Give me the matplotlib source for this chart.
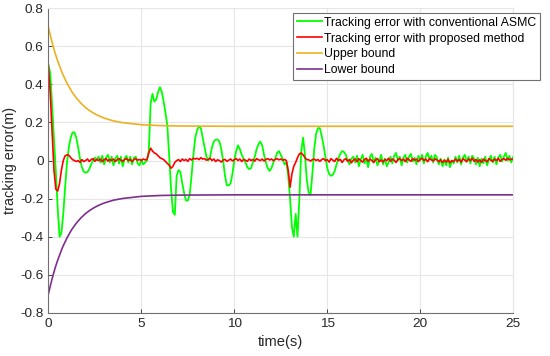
import matplotlib
matplotlib.use("Agg")
import matplotlib.pyplot as plt
import numpy as np

plt.rcParams['font.family'] = ['Liberation Sans', 'DejaVu Sans']

# sampled every 0.1 s, one row per second
time = np.linspace(0, 25, 251)

err_asmc = [
    0.50, 0.46, 0.29, 0.12, -0.06, -0.25, -0.40, -0.38, -0.28, -0.14,
    -0.01, 0.07, 0.12, 0.148, 0.148, 0.12, 0.07, 0.01, -0.035, -0.058,
    -0.064, -0.06, -0.045, -0.02, 0.0, 0.015, 0.005, 0.02, -0.01, 0.025,
    -0.02, 0.015, 0.03, -0.01, 0.02, -0.025, 0.01, 0.025, -0.015, 0.02,
    -0.03, 0.01, 0.025, -0.01, 0.02, -0.02, 0.015, 0.02, -0.015, -0.025,
    0.005, -0.02, -0.01, 0.0, 0.05, 0.30, 0.35, 0.31, 0.32, 0.36,
    0.385, 0.36, 0.31, 0.25, 0.18, 0.02, -0.15, -0.27, -0.285, -0.08,
    -0.05, -0.06, -0.12, -0.17, -0.21, -0.21, -0.18, -0.08, 0.03, 0.12,
    0.16, 0.18, 0.17, 0.12, 0.07, 0.02, 0.0, 0.02, 0.07, 0.10,
    0.11, 0.11, 0.10, 0.06, 0.0, -0.08, -0.13, -0.13, -0.12, -0.07,
    0.0, 0.05, 0.08, 0.06, 0.03, 0.01, -0.01, -0.035, -0.045, -0.04,
    -0.01, 0.02, 0.06, 0.085, 0.10, 0.08, 0.03, -0.01, -0.04, -0.055,
    -0.04, -0.01, 0.01, 0.04, 0.05, 0.03, 0.01, -0.02, -0.01, -0.08,
    -0.20, -0.35, -0.40, -0.28, -0.40, -0.20, 0.05, 0.12, 0.03, -0.10,
    -0.17, -0.18, -0.07, 0.06, 0.14, 0.17, 0.17, 0.13, 0.08, 0.02,
    -0.04, -0.07, -0.08, -0.075, -0.055, -0.02, 0.01, 0.035, 0.05, 0.045,
    0.03, 0.0, -0.02, 0.01, 0.02, -0.01, 0.025, -0.03, 0.005, 0.03,
    -0.015, 0.01, -0.035, 0.02, 0.035, -0.01, 0.015, -0.025, 0.0, 0.03,
    -0.02, 0.01, -0.03, -0.01, 0.02, -0.015, 0.025, 0.04, 0.0, 0.02,
    -0.025, 0.015, 0.03, -0.01, 0.02, 0.035, -0.005, 0.015, -0.02, 0.025,
    0.0, 0.03, -0.015, 0.02, 0.04, 0.005, 0.025, -0.01, 0.03, 0.015,
    -0.02, 0.01, -0.03, 0.005, -0.025, 0.015, -0.035, 0.0, -0.015, 0.02,
    -0.01, 0.025, -0.02, 0.015, 0.03, -0.005, 0.02, -0.015, 0.025, 0.01,
    -0.02, 0.015, -0.03, 0.01, -0.015, 0.02, -0.025, 0.005, 0.025, -0.01,
    0.02, -0.02, 0.015, 0.03, -0.005, 0.02, 0.04, 0.0, 0.025, -0.01,
    0.02,
]

err_proposed = [
    0.50, 0.35, 0.15, -0.05, -0.15, -0.16, -0.12, -0.05, 0.0, 0.025,
    0.03, 0.028, 0.015, 0.005, 0.0, -0.005, 0.0, -0.01, 0.005, -0.005,
    0.0, 0.008, -0.005, 0.005, 0.01, -0.004, 0.006, 0.0, 0.008, -0.006,
    0.005, 0.01, -0.003, 0.006, 0.0, 0.008, -0.005, 0.004, 0.01, 0.002,
    -0.004, 0.006, 0.01, 0.0, 0.007, -0.005, 0.005, 0.01, 0.002, 0.006,
    0.0, 0.008, 0.004, 0.005, 0.04, 0.065, 0.05, 0.04, 0.035, 0.025,
    0.015, 0.01, 0.005, -0.005, -0.015, -0.025, -0.04, -0.03, -0.01, 0.0,
    0.005, -0.005, 0.008, 0.0, 0.006, -0.004, 0.01, 0.003, 0.012, 0.008,
    0.012, 0.005, 0.015, 0.008, 0.01, 0.002, 0.006, 0.012, 0.0, 0.008,
    -0.005, 0.004, 0.0, -0.008, 0.003, 0.006, -0.004, 0.002, 0.008, -0.002,
    0.005, 0.01, 0.0, 0.008, -0.005, 0.006, 0.002, -0.004, 0.008, 0.0,
    0.006, -0.003, 0.01, 0.004, 0.0, 0.008, -0.002, 0.006, 0.01, 0.003,
    0.008, 0.0, 0.006, 0.01, 0.004, 0.008, 0.002, 0.006, 0.0, -0.05,
    -0.14, -0.07, -0.03, -0.01, 0.015, 0.035, 0.04, 0.03, 0.015, 0.005,
    0.004, -0.003, 0.005, 0.008, 0.0, 0.006, -0.004, 0.005, 0.01, 0.0,
    0.005, -0.008, 0.01, 0.002, -0.005, 0.012, 0.0, 0.006, -0.01, 0.004,
    0.01, -0.004, 0.006, -0.012, 0.002, 0.008, -0.006, 0.01, 0.0, -0.008,
    0.006, 0.012, -0.004, 0.008, 0.0, -0.01, 0.004, 0.01, -0.006, 0.003,
    -0.008, 0.006, 0.0, 0.012, -0.004, 0.008, 0.002, -0.01, 0.006, 0.01,
    0.0, 0.008, -0.006, 0.012, 0.004, -0.004, 0.01, 0.002, 0.008, -0.005,
    0.006, 0.012, 0.0, 0.008, -0.006, 0.01, 0.004, -0.002, 0.009, 0.003,
    -0.006, 0.004, -0.01, 0.002, -0.008, 0.006, -0.012, 0.0, -0.005, 0.008,
    -0.004, 0.006, -0.008, 0.01, 0.002, -0.006, 0.008, 0.0, 0.012, -0.004,
    0.006, -0.008, 0.004, -0.01, 0.008, 0.0, -0.006, 0.01, 0.002, -0.004,
    0.008, 0.0, 0.012, -0.004, 0.006, 0.01, 0.002, 0.012, 0.004, 0.008,
    0.006,
]

# prescribed performance bounds
bound_t = [0, 0.125, 0.25, 0.375, 0.5, 0.75, 1.0, 1.25, 1.5, 1.75, 2.0, 2.25,
           2.5, 2.75, 3.0, 3.5, 4.0, 5.0, 6.0, 7.0, 8.0, 10.0, 25.0]
upper = [0.700, 0.649, 0.602, 0.560, 0.523, 0.458, 0.406, 0.363, 0.329, 0.301,
         0.278, 0.260, 0.245, 0.233, 0.223, 0.208, 0.199, 0.188, 0.1835, 0.1815,
         0.181, 0.180, 0.180]
lower = [-v for v in upper]

fig = plt.figure(figsize=(5.5, 3.56), dpi=100)
ax = fig.add_axes([0.088, 0.121, 0.845, 0.856])

ax.plot(time, err_asmc, color='#00ff00', lw=1.3, label='Tracking error with conventional ASMC')
ax.plot(time, err_proposed, color='#ff0000', lw=1.2, label='Tracking error with proposed method')
ax.plot(bound_t, upper, color='#EDB120', lw=1.2, label='Upper bound')
ax.plot(bound_t, lower, color='#7E2F8E', lw=1.2, label='Lower bound')

ax.set_xlim(0, 25)
ax.set_ylim(-0.8, 0.8)
ax.set_xticks([0, 5, 10, 15, 20, 25])
ax.set_yticks(np.arange(-0.8, 0.81, 0.2))
ax.set_yticklabels(['-0.8', '-0.6', '-0.4', '-0.2', '0', '0.2', '0.4', '0.6', '0.8'])
ax.grid(True, color='#e6e6e6', lw=0.8)
ax.set_axisbelow(True)
ax.tick_params(direction='in', length=3, labelsize=9.7, colors='#262626', width=0.6)
for s in ['left', 'bottom']:
    ax.spines[s].set_color('#707070')
    ax.spines[s].set_linewidth(0.8)
for s in ['top', 'right']:
    ax.spines[s].set_color('#e6e6e6')

ax.set_xlabel('time(s)', fontsize=10.6, color='#262626', labelpad=4)
ax.set_ylabel('tracking error(m)', fontsize=10.4, color='#262626', labelpad=2)

leg = ax.legend(loc='upper left', bbox_to_anchor=(293 / 550, 1 - 13 / 356),
                bbox_transform=fig.transFigure, fontsize=8.8, handlelength=2.05,
                handletextpad=0.2, labelspacing=0.32, borderpad=0.3,
                borderaxespad=0, fancybox=False, framealpha=1)
leg.get_frame().set_edgecolor('#707070')
leg.get_frame().set_linewidth(0.8)

fig.savefig('out.png', dpi=100)
